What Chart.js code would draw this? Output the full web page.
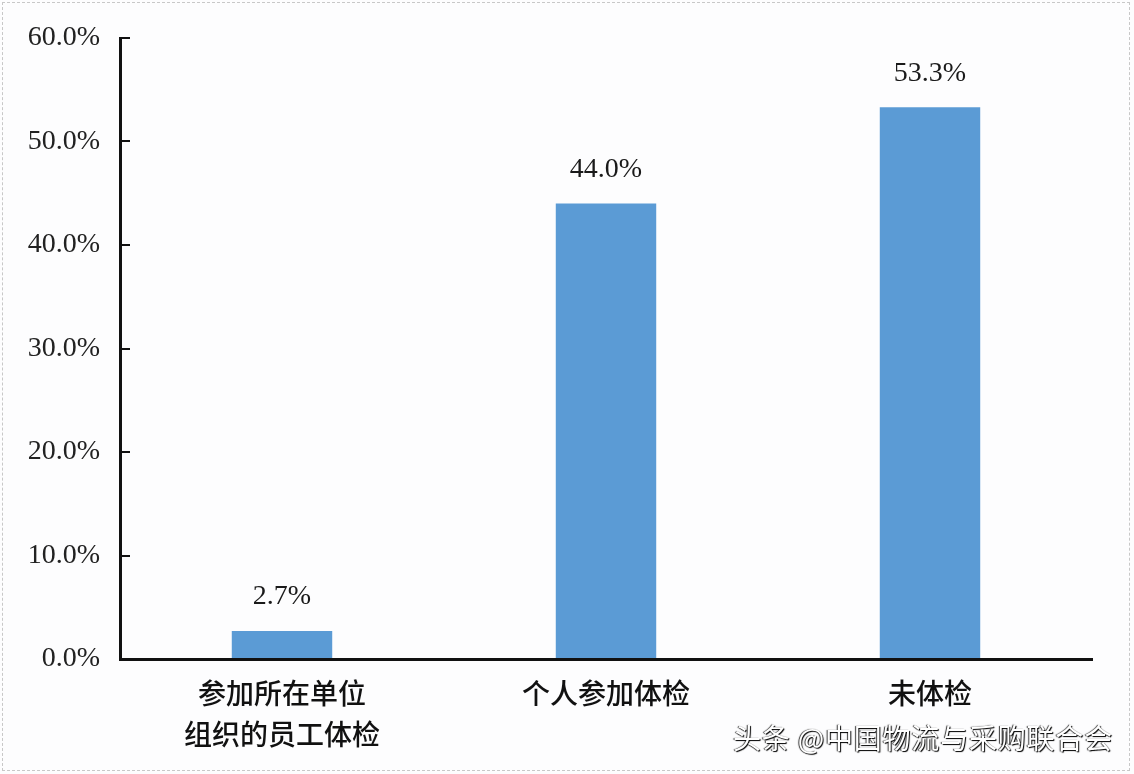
<!DOCTYPE html>
<html>
<head>
<meta charset="utf-8">
<script src="https://cdn.jsdelivr.net/npm/chart.js@4"></script>
<style>
  html, body { margin: 0; padding: 0; background: #fdfdfe; }
  #wrap { position: relative; width: 1134px; height: 774px; }
  #frame { position: absolute; left: 2px; top: 2px; right: 4px; bottom: 3px; border: 1px dashed #c8c8c8; pointer-events: none; }
  #mark { position: absolute; left: 733px; top: 717px; font-family: "Noto Sans CJK SC", sans-serif; font-size: 28px; color: #fff;
          text-shadow: 1px 1px 1px #000, -1px 0 1px #333; letter-spacing: 0.8px; white-space: nowrap; }
</style>
</head>
<body>
<div id="wrap">
  <canvas id="barChart" width="1134" height="774"></canvas>
  <div id="frame"></div>
  <div id="mark">头条 @中国物流与采购联合会</div>
</div>
<script>
const categories = [['参加所在单位', '组织的员工体检'], '个人参加体检', '未体检'];
const shares = [2.7, 44.0, 53.3];
const yTicks = [0, 10, 20, 30, 40, 50, 60];

// value labels above each bar
const valueLabels = {
  id: 'valueLabels',
  afterDatasetsDraw(chart) {
    const ctx = chart.ctx;
    const meta = chart.getDatasetMeta(0);
    ctx.save();
    ctx.font = '28px "Liberation Serif", "Times New Roman", serif';
    ctx.fillStyle = '#1a1a1a';
    ctx.textAlign = 'center';
    ctx.textBaseline = 'bottom';
    meta.data.forEach((bar, i) => {
      ctx.fillText(shares[i].toFixed(1) + '%', bar.x, bar.y - 20);
    });
    ctx.restore();
  }
};

const barCtx = document.getElementById('barChart').getContext('2d');

const barChart = new Chart(barCtx, {
  type: 'bar',
  data: {
    labels: categories,
    datasets: [{
      data: shares,
      backgroundColor: '#5b9bd5',
      borderWidth: 0,
      barPercentage: 0.31,
      categoryPercentage: 1
    }]
  },
  options: {
    responsive: false,
    animation: false,
    layout: { padding: { left: 0, right: 42, top: 38, bottom: 0 } },
    plugins: {
      legend: { display: false },
      tooltip: { enabled: false }
    },
    scales: {
      x: {
        grid: { display: false, drawTicks: false },
        border: { display: true, color: '#111', width: 3 },
        ticks: {
          padding: 14,
          color: '#111',
          font: { family: '"Noto Sans CJK SC", sans-serif', size: 28, weight: 500, lineHeight: 1.45 }
        },
        afterFit(scale) { scale.height = 115; }
      },
      y: {
        min: 0,
        max: 60,
        afterBuildTicks(scale) { scale.ticks = yTicks.map(v => ({ value: v })); },
        grid: { drawOnChartArea: false, drawTicks: true, tickLength: -10, color: '#111', lineWidth: 2 },
        border: { display: true, color: '#111', width: 3 },
        ticks: {
          padding: 30,
          color: '#222',
          font: { family: '"Liberation Serif", "Times New Roman", serif', size: 28 },
          callback: v => v.toFixed(1) + '%'
        },
        afterFit(scale) {
          scale.width = 120;
          scale.paddingTop = 0;
          scale.paddingBottom = 0;
        }
      }
    }
  },
  plugins: [valueLabels]
});
</script>
</body>
</html>
